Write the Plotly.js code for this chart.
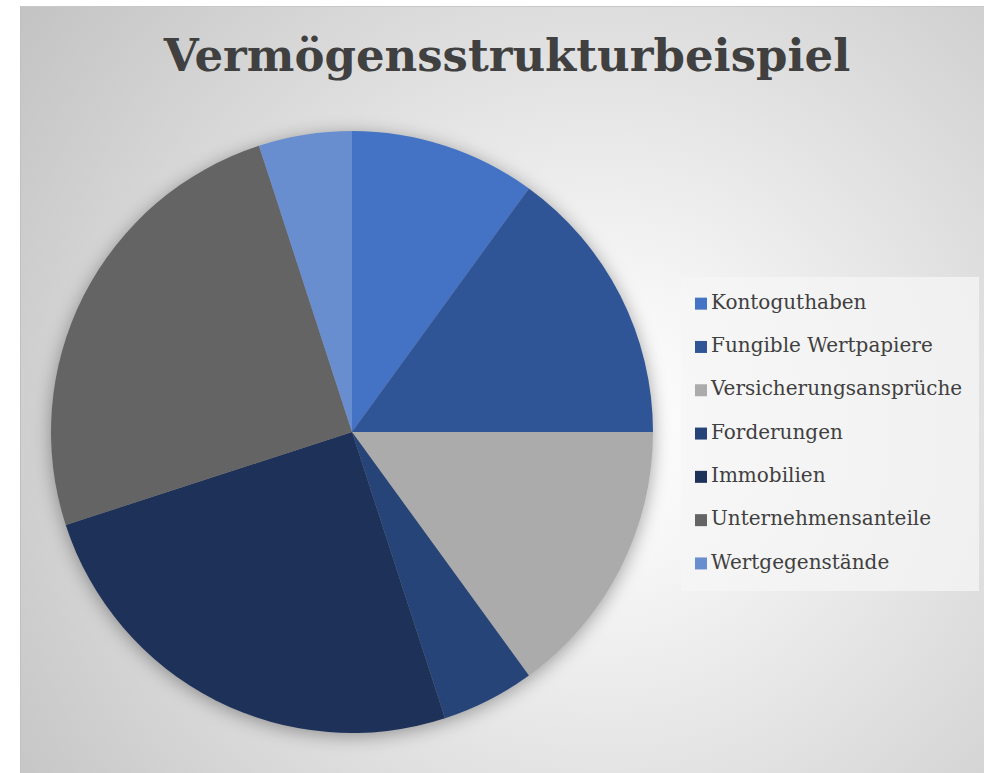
<!DOCTYPE html>
<html>
<head>
<meta charset="utf-8">
<script src="https://cdn.plot.ly/plotly-3.0.1.min.js"></script>
<style>
  html, body { margin: 0; padding: 0; background: #ffffff; }
  #wrap { position: relative; width: 984px; height: 773px; overflow: hidden; }
  #bg { position: absolute; left: 20px; top: 6px; width: 964px; height: 767px;
        border-top: 1px solid #c8c8c8; border-left: 1px solid #c0c0c0; box-sizing: border-box;
        background: radial-gradient(circle at 580px 420px, #ffffff 0%, #f7f7f7 18%, #c3c3c3 100%); }
  #chart { position: absolute; left: 0; top: 0; width: 984px; height: 773px; }
  #chart .pielayer .trace { filter: drop-shadow(0px 3px 9px rgba(0,0,0,0.35)); }
  #chart .legend .legendtext { transform: translate(-10px, -7px); }
</style>
</head>
<body>
<div id="wrap">
  <div id="bg"></div>
  <div id="chart"></div>
</div>
<script>
const chartTitle = "Vermögensstrukturbeispiel";
const labels = ["Kontoguthaben", "Fungible Wertpapiere", "Versicherungsansprüche", "Forderungen", "Immobilien", "Unternehmensanteile", "Wertgegenstände"];
const values = [10, 15, 15, 5, 25, 25, 5];
const colors = ["#4472C4", "#2F5597", "#ABABAB", "#264478", "#1E3159", "#646464", "#698ED0"];

const legendLabels = labels.map(l => '<span style="font-size:20px">' + l + '</span>');

const W = 984, H = 773;
const cx = 352, cy = 432, r = 301;

const trace = {
  type: "pie",
  labels: legendLabels,
  values: values,
  marker: { colors: colors, line: { width: 0 } },
  sort: false,
  direction: "clockwise",
  rotation: 0,
  textinfo: "none",
  hoverinfo: "label+percent",
  domain: { x: [(cx - r) / W, (cx + r) / W], y: [(H - cy - r) / H, (H - cy + r) / H] }
};

const layout = {
  width: W, height: H,
  margin: { l: 0, r: 0, t: 0, b: 0 },
  paper_bgcolor: "rgba(0,0,0,0)",
  plot_bgcolor: "rgba(0,0,0,0)",
  title: {
    text: "<b>" + chartTitle + "</b>",
    font: { family: "DejaVu Serif, serif", size: 45, color: "#404040" },
    x: 507 / W, xanchor: "center", xref: "paper",
    y: 1 - 55 / H, yanchor: "middle", yref: "container"
  },
  showlegend: true,
  legend: {
    x: 681 / W, xanchor: "left",
    y: 1 - 277 / H, yanchor: "top",
    bgcolor: "rgba(246,246,246,0.75)",
    font: { family: "DejaVu Serif, serif", size: 31, color: "#404040" },
    itemwidth: 30,
    traceorder: "normal"
  }
};

Plotly.newPlot("chart", [trace], layout, { displayModeBar: false, staticPlot: true });
</script>
</body>
</html>
